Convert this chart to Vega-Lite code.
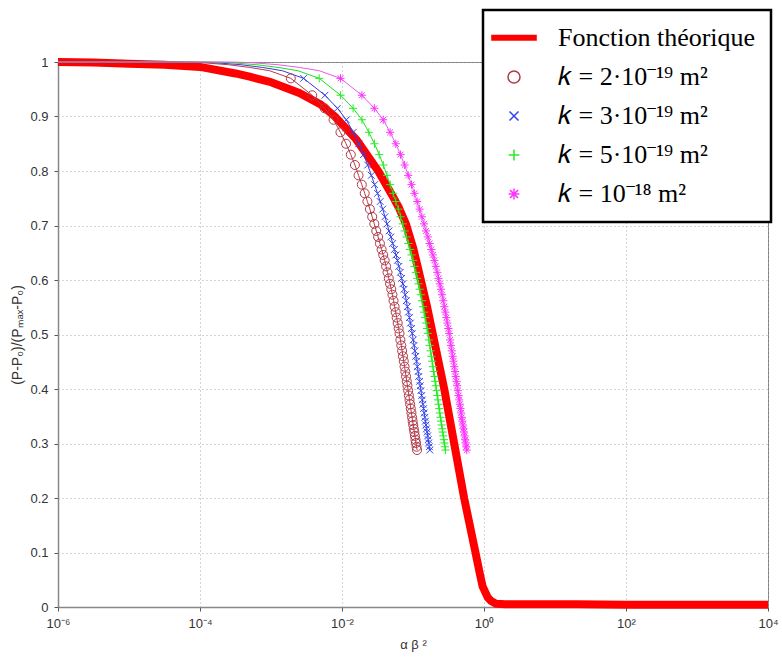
{
"$schema": "https://vega.github.io/schema/vega-lite/v6.json",
"width": 710, "height": 545,
"autosize": {"type": "none"},
"padding": {"left": 58, "top": 62, "right": 14, "bottom": 55},
"background": "white",
"data": {"values": [
{"s":"t","x":-6,"y":1.0,"m":0},{"s":"t","x":-5.5,"y":0.999,"m":0},{"s":"t","x":-5,"y":0.997,"m":0},{"s":"t","x":-4.5,"y":0.995,"m":0},{"s":"t","x":-4,"y":0.991,"m":0},{"s":"t","x":-3.5,"y":0.979,"m":0},{"s":"t","x":-3.3,"y":0.973,"m":0},{"s":"t","x":-3,"y":0.963,"m":0},{"s":"t","x":-2.6,"y":0.943,"m":0},{"s":"t","x":-2.3,"y":0.922,"m":0},{"s":"t","x":-2.1,"y":0.9,"m":0},{"s":"t","x":-1.8,"y":0.858,"m":0},{"s":"t","x":-1.49,"y":0.8,"m":0},{"s":"t","x":-1.3,"y":0.757,"m":0},{"s":"t","x":-1.2,"y":0.733,"m":0},{"s":"t","x":-1.1,"y":0.703,"m":0},{"s":"t","x":-1.0,"y":0.66,"m":0},{"s":"t","x":-0.89,"y":0.6,"m":0},{"s":"t","x":-0.8,"y":0.55,"m":0},{"s":"t","x":-0.72,"y":0.5,"m":0},{"s":"t","x":-0.64,"y":0.45,"m":0},{"s":"t","x":-0.56,"y":0.4,"m":0},{"s":"t","x":-0.49,"y":0.35,"m":0},{"s":"t","x":-0.42,"y":0.3,"m":0},{"s":"t","x":-0.35,"y":0.25,"m":0},{"s":"t","x":-0.28,"y":0.2,"m":0},{"s":"t","x":-0.2,"y":0.15,"m":0},{"s":"t","x":-0.12,"y":0.1,"m":0},{"s":"t","x":-0.06,"y":0.062,"m":0},{"s":"t","x":-0.02,"y":0.038,"m":0},{"s":"t","x":0.05,"y":0.018,"m":0},{"s":"t","x":0.1,"y":0.011,"m":0},{"s":"t","x":0.17,"y":0.006,"m":0},{"s":"t","x":0.3,"y":0.005,"m":0},{"s":"t","x":1,"y":0.005,"m":0},{"s":"t","x":1.3,"y":0.005,"m":0},{"s":"t","x":2,"y":0.004,"m":0},{"s":"t","x":4,"y":0.004,"m":0},

{"s":"a","x":-6,"y":1,"m":0},{"s":"a","x":-4.3,"y":1,"m":0},{"s":"a","x":-4.0,"y":0.999,"m":0},{"s":"a","x":-3.6,"y":0.995,"m":0},{"s":"a","x":-3.3,"y":0.99,"m":0},{"s":"a","x":-3.02,"y":0.984,"m":0},
{"s":"a","x":-2.721,"y":0.970,"m":1},{"s":"a","x":-2.420,"y":0.939,"m":1},{"s":"a","x":-2.244,"y":0.915,"m":1},{"s":"a","x":-2.119,"y":0.894,"m":1},{"s":"a","x":-2.022,"y":0.871,"m":1},{"s":"a","x":-1.943,"y":0.850,"m":1},{"s":"a","x":-1.876,"y":0.830,"m":1},{"s":"a","x":-1.818,"y":0.811,"m":1},{"s":"a","x":-1.767,"y":0.792,"m":1},{"s":"a","x":-1.721,"y":0.775,"m":1},{"s":"a","x":-1.680,"y":0.759,"m":1},{"s":"a","x":-1.642,"y":0.744,"m":1},{"s":"a","x":-1.607,"y":0.730,"m":1},{"s":"a","x":-1.575,"y":0.716,"m":1},{"s":"a","x":-1.545,"y":0.703,"m":1},{"s":"a","x":-1.517,"y":0.690,"m":1},{"s":"a","x":-1.491,"y":0.679,"m":1},{"s":"a","x":-1.466,"y":0.667,"m":1},{"s":"a","x":-1.442,"y":0.656,"m":1},{"s":"a","x":-1.420,"y":0.646,"m":1},{"s":"a","x":-1.399,"y":0.636,"m":1},{"s":"a","x":-1.379,"y":0.625,"m":1},{"s":"a","x":-1.359,"y":0.614,"m":1},{"s":"a","x":-1.341,"y":0.603,"m":1},{"s":"a","x":-1.323,"y":0.593,"m":1},{"s":"a","x":-1.306,"y":0.583,"m":1},{"s":"a","x":-1.290,"y":0.573,"m":1},{"s":"a","x":-1.274,"y":0.562,"m":1},{"s":"a","x":-1.259,"y":0.551,"m":1},{"s":"a","x":-1.244,"y":0.541,"m":1},{"s":"a","x":-1.230,"y":0.531,"m":1},{"s":"a","x":-1.216,"y":0.521,"m":1},{"s":"a","x":-1.202,"y":0.511,"m":1},{"s":"a","x":-1.190,"y":0.502,"m":1},{"s":"a","x":-1.177,"y":0.490,"m":1},{"s":"a","x":-1.165,"y":0.480,"m":1},{"s":"a","x":-1.153,"y":0.470,"m":1},{"s":"a","x":-1.141,"y":0.460,"m":1},{"s":"a","x":-1.130,"y":0.451,"m":1},{"s":"a","x":-1.119,"y":0.441,"m":1},{"s":"a","x":-1.108,"y":0.432,"m":1},{"s":"a","x":-1.098,"y":0.423,"m":1},{"s":"a","x":-1.088,"y":0.414,"m":1},{"s":"a","x":-1.078,"y":0.406,"m":1},{"s":"a","x":-1.068,"y":0.397,"m":1},{"s":"a","x":-1.058,"y":0.388,"m":1},{"s":"a","x":-1.049,"y":0.380,"m":1},{"s":"a","x":-1.040,"y":0.372,"m":1},{"s":"a","x":-1.031,"y":0.364,"m":1},{"s":"a","x":-1.022,"y":0.356,"m":1},{"s":"a","x":-1.013,"y":0.348,"m":1},{"s":"a","x":-1.005,"y":0.341,"m":1},{"s":"a","x":-0.997,"y":0.334,"m":1},{"s":"a","x":-0.989,"y":0.327,"m":1},{"s":"a","x":-0.981,"y":0.321,"m":1},{"s":"a","x":-0.973,"y":0.314,"m":1},{"s":"a","x":-0.965,"y":0.307,"m":1},{"s":"a","x":-0.958,"y":0.301,"m":1},{"s":"a","x":-0.950,"y":0.294,"m":1},{"s":"a","x":-0.943,"y":0.288,"m":1},

{"s":"b","x":-6,"y":1,"m":0},{"s":"b","x":-4.12,"y":1,"m":0},{"s":"b","x":-3.82,"y":0.999,"m":0},{"s":"b","x":-3.42,"y":0.995,"m":0},{"s":"b","x":-3.12,"y":0.99,"m":0},{"s":"b","x":-2.84,"y":0.984,"m":0},
{"s":"b","x":-2.541,"y":0.970,"m":1},{"s":"b","x":-2.240,"y":0.939,"m":1},{"s":"b","x":-2.064,"y":0.915,"m":1},{"s":"b","x":-1.939,"y":0.894,"m":1},{"s":"b","x":-1.842,"y":0.871,"m":1},{"s":"b","x":-1.763,"y":0.850,"m":1},{"s":"b","x":-1.696,"y":0.830,"m":1},{"s":"b","x":-1.638,"y":0.811,"m":1},{"s":"b","x":-1.587,"y":0.792,"m":1},{"s":"b","x":-1.541,"y":0.775,"m":1},{"s":"b","x":-1.500,"y":0.759,"m":1},{"s":"b","x":-1.462,"y":0.744,"m":1},{"s":"b","x":-1.427,"y":0.730,"m":1},{"s":"b","x":-1.395,"y":0.716,"m":1},{"s":"b","x":-1.365,"y":0.703,"m":1},{"s":"b","x":-1.337,"y":0.690,"m":1},{"s":"b","x":-1.311,"y":0.679,"m":1},{"s":"b","x":-1.286,"y":0.667,"m":1},{"s":"b","x":-1.262,"y":0.656,"m":1},{"s":"b","x":-1.240,"y":0.646,"m":1},{"s":"b","x":-1.219,"y":0.636,"m":1},{"s":"b","x":-1.199,"y":0.625,"m":1},{"s":"b","x":-1.179,"y":0.614,"m":1},{"s":"b","x":-1.161,"y":0.603,"m":1},{"s":"b","x":-1.143,"y":0.593,"m":1},{"s":"b","x":-1.126,"y":0.583,"m":1},{"s":"b","x":-1.110,"y":0.573,"m":1},{"s":"b","x":-1.094,"y":0.562,"m":1},{"s":"b","x":-1.079,"y":0.551,"m":1},{"s":"b","x":-1.064,"y":0.541,"m":1},{"s":"b","x":-1.050,"y":0.531,"m":1},{"s":"b","x":-1.036,"y":0.521,"m":1},{"s":"b","x":-1.022,"y":0.511,"m":1},{"s":"b","x":-1.010,"y":0.502,"m":1},{"s":"b","x":-0.997,"y":0.490,"m":1},{"s":"b","x":-0.985,"y":0.480,"m":1},{"s":"b","x":-0.973,"y":0.470,"m":1},{"s":"b","x":-0.961,"y":0.460,"m":1},{"s":"b","x":-0.950,"y":0.451,"m":1},{"s":"b","x":-0.939,"y":0.441,"m":1},{"s":"b","x":-0.928,"y":0.432,"m":1},{"s":"b","x":-0.918,"y":0.423,"m":1},{"s":"b","x":-0.908,"y":0.414,"m":1},{"s":"b","x":-0.898,"y":0.406,"m":1},{"s":"b","x":-0.888,"y":0.397,"m":1},{"s":"b","x":-0.878,"y":0.388,"m":1},{"s":"b","x":-0.869,"y":0.380,"m":1},{"s":"b","x":-0.860,"y":0.372,"m":1},{"s":"b","x":-0.851,"y":0.364,"m":1},{"s":"b","x":-0.842,"y":0.356,"m":1},{"s":"b","x":-0.833,"y":0.348,"m":1},{"s":"b","x":-0.825,"y":0.341,"m":1},{"s":"b","x":-0.817,"y":0.334,"m":1},{"s":"b","x":-0.809,"y":0.327,"m":1},{"s":"b","x":-0.801,"y":0.321,"m":1},{"s":"b","x":-0.793,"y":0.314,"m":1},{"s":"b","x":-0.785,"y":0.307,"m":1},{"s":"b","x":-0.778,"y":0.301,"m":1},{"s":"b","x":-0.770,"y":0.294,"m":1},{"s":"b","x":-0.763,"y":0.288,"m":1},

{"s":"c","x":-6,"y":1,"m":0},{"s":"c","x":-3.9,"y":1,"m":0},{"s":"c","x":-3.6,"y":0.999,"m":0},{"s":"c","x":-3.2,"y":0.995,"m":0},{"s":"c","x":-2.9,"y":0.99,"m":0},{"s":"c","x":-2.62,"y":0.984,"m":0},
{"s":"c","x":-2.321,"y":0.970,"m":1},{"s":"c","x":-2.020,"y":0.939,"m":1},{"s":"c","x":-1.844,"y":0.915,"m":1},{"s":"c","x":-1.719,"y":0.894,"m":1},{"s":"c","x":-1.622,"y":0.871,"m":1},{"s":"c","x":-1.543,"y":0.850,"m":1},{"s":"c","x":-1.476,"y":0.830,"m":1},{"s":"c","x":-1.418,"y":0.811,"m":1},{"s":"c","x":-1.367,"y":0.792,"m":1},{"s":"c","x":-1.321,"y":0.775,"m":1},{"s":"c","x":-1.280,"y":0.759,"m":1},{"s":"c","x":-1.242,"y":0.744,"m":1},{"s":"c","x":-1.207,"y":0.730,"m":1},{"s":"c","x":-1.175,"y":0.716,"m":1},{"s":"c","x":-1.145,"y":0.703,"m":1},{"s":"c","x":-1.117,"y":0.690,"m":1},{"s":"c","x":-1.091,"y":0.679,"m":1},{"s":"c","x":-1.066,"y":0.667,"m":1},{"s":"c","x":-1.042,"y":0.656,"m":1},{"s":"c","x":-1.020,"y":0.646,"m":1},{"s":"c","x":-0.999,"y":0.636,"m":1},{"s":"c","x":-0.979,"y":0.625,"m":1},{"s":"c","x":-0.959,"y":0.614,"m":1},{"s":"c","x":-0.941,"y":0.603,"m":1},{"s":"c","x":-0.923,"y":0.593,"m":1},{"s":"c","x":-0.906,"y":0.583,"m":1},{"s":"c","x":-0.890,"y":0.573,"m":1},{"s":"c","x":-0.874,"y":0.562,"m":1},{"s":"c","x":-0.859,"y":0.551,"m":1},{"s":"c","x":-0.844,"y":0.541,"m":1},{"s":"c","x":-0.830,"y":0.531,"m":1},{"s":"c","x":-0.816,"y":0.521,"m":1},{"s":"c","x":-0.802,"y":0.511,"m":1},{"s":"c","x":-0.790,"y":0.502,"m":1},{"s":"c","x":-0.777,"y":0.490,"m":1},{"s":"c","x":-0.765,"y":0.480,"m":1},{"s":"c","x":-0.753,"y":0.470,"m":1},{"s":"c","x":-0.741,"y":0.460,"m":1},{"s":"c","x":-0.730,"y":0.451,"m":1},{"s":"c","x":-0.719,"y":0.441,"m":1},{"s":"c","x":-0.708,"y":0.432,"m":1},{"s":"c","x":-0.698,"y":0.423,"m":1},{"s":"c","x":-0.688,"y":0.414,"m":1},{"s":"c","x":-0.678,"y":0.406,"m":1},{"s":"c","x":-0.668,"y":0.397,"m":1},{"s":"c","x":-0.658,"y":0.388,"m":1},{"s":"c","x":-0.649,"y":0.380,"m":1},{"s":"c","x":-0.640,"y":0.372,"m":1},{"s":"c","x":-0.631,"y":0.364,"m":1},{"s":"c","x":-0.622,"y":0.356,"m":1},{"s":"c","x":-0.613,"y":0.348,"m":1},{"s":"c","x":-0.605,"y":0.341,"m":1},{"s":"c","x":-0.597,"y":0.334,"m":1},{"s":"c","x":-0.589,"y":0.327,"m":1},{"s":"c","x":-0.581,"y":0.321,"m":1},{"s":"c","x":-0.573,"y":0.314,"m":1},{"s":"c","x":-0.565,"y":0.307,"m":1},{"s":"c","x":-0.558,"y":0.301,"m":1},{"s":"c","x":-0.550,"y":0.294,"m":1},{"s":"c","x":-0.543,"y":0.288,"m":1},

{"s":"d","x":-6,"y":1,"m":0},{"s":"d","x":-3.6,"y":1,"m":0},{"s":"d","x":-3.3,"y":0.999,"m":0},{"s":"d","x":-2.9,"y":0.995,"m":0},{"s":"d","x":-2.6,"y":0.99,"m":0},{"s":"d","x":-2.32,"y":0.984,"m":0},
{"s":"d","x":-2.021,"y":0.970,"m":1},{"s":"d","x":-1.720,"y":0.939,"m":1},{"s":"d","x":-1.544,"y":0.915,"m":1},{"s":"d","x":-1.419,"y":0.894,"m":1},{"s":"d","x":-1.322,"y":0.871,"m":1},{"s":"d","x":-1.243,"y":0.850,"m":1},{"s":"d","x":-1.176,"y":0.830,"m":1},{"s":"d","x":-1.118,"y":0.811,"m":1},{"s":"d","x":-1.067,"y":0.792,"m":1},{"s":"d","x":-1.021,"y":0.775,"m":1},{"s":"d","x":-0.980,"y":0.759,"m":1},{"s":"d","x":-0.942,"y":0.744,"m":1},{"s":"d","x":-0.907,"y":0.730,"m":1},{"s":"d","x":-0.875,"y":0.716,"m":1},{"s":"d","x":-0.845,"y":0.703,"m":1},{"s":"d","x":-0.817,"y":0.690,"m":1},{"s":"d","x":-0.791,"y":0.679,"m":1},{"s":"d","x":-0.766,"y":0.667,"m":1},{"s":"d","x":-0.742,"y":0.656,"m":1},{"s":"d","x":-0.720,"y":0.646,"m":1},{"s":"d","x":-0.699,"y":0.636,"m":1},{"s":"d","x":-0.679,"y":0.625,"m":1},{"s":"d","x":-0.659,"y":0.614,"m":1},{"s":"d","x":-0.641,"y":0.603,"m":1},{"s":"d","x":-0.623,"y":0.593,"m":1},{"s":"d","x":-0.606,"y":0.583,"m":1},{"s":"d","x":-0.590,"y":0.573,"m":1},{"s":"d","x":-0.574,"y":0.562,"m":1},{"s":"d","x":-0.559,"y":0.551,"m":1},{"s":"d","x":-0.544,"y":0.541,"m":1},{"s":"d","x":-0.530,"y":0.531,"m":1},{"s":"d","x":-0.516,"y":0.521,"m":1},{"s":"d","x":-0.502,"y":0.511,"m":1},{"s":"d","x":-0.490,"y":0.502,"m":1},{"s":"d","x":-0.477,"y":0.490,"m":1},{"s":"d","x":-0.465,"y":0.480,"m":1},{"s":"d","x":-0.453,"y":0.470,"m":1},{"s":"d","x":-0.441,"y":0.460,"m":1},{"s":"d","x":-0.430,"y":0.451,"m":1},{"s":"d","x":-0.419,"y":0.441,"m":1},{"s":"d","x":-0.408,"y":0.432,"m":1},{"s":"d","x":-0.398,"y":0.423,"m":1},{"s":"d","x":-0.388,"y":0.414,"m":1},{"s":"d","x":-0.378,"y":0.406,"m":1},{"s":"d","x":-0.368,"y":0.397,"m":1},{"s":"d","x":-0.358,"y":0.388,"m":1},{"s":"d","x":-0.349,"y":0.380,"m":1},{"s":"d","x":-0.340,"y":0.372,"m":1},{"s":"d","x":-0.331,"y":0.364,"m":1},{"s":"d","x":-0.322,"y":0.356,"m":1},{"s":"d","x":-0.313,"y":0.348,"m":1},{"s":"d","x":-0.305,"y":0.341,"m":1},{"s":"d","x":-0.297,"y":0.334,"m":1},{"s":"d","x":-0.289,"y":0.327,"m":1},{"s":"d","x":-0.281,"y":0.321,"m":1},{"s":"d","x":-0.273,"y":0.314,"m":1},{"s":"d","x":-0.265,"y":0.307,"m":1},{"s":"d","x":-0.258,"y":0.301,"m":1},{"s":"d","x":-0.250,"y":0.294,"m":1},{"s":"d","x":-0.243,"y":0.288,"m":1}
]},
"encoding": {
  "x": {"field": "x", "type": "quantitative",
        "scale": {"domain": [-6, 4], "nice": false, "zero": false},
        "axis": {"values": [-6, -4, -2, 0, 2, 4], "labelFlush": false, "labelPadding": 6, "titlePadding": 8,
                 "labelExpr": "datum.value == -6 ? '10⁻⁶' : datum.value == -4 ? '10⁻⁴' : datum.value == -2 ? '10⁻²' : datum.value == 0 ? '10⁰' : datum.value == 2 ? '10²' : '10⁴'",
                 "title": "α β ²"}},
  "y": {"field": "y", "type": "quantitative",
        "scale": {"domain": [0, 1], "nice": false, "zero": false},
        "axis": {"values": [0, 0.1, 0.2, 0.3, 0.4, 0.5, 0.6, 0.7, 0.8, 0.9, 1], "format": ".1~f", "labelFlush": false, "labelOverlap": false, "labelPadding": 6, "titlePadding": 5, "titleFontSize": 14,
                 "title": "(P-P₀)/(Pₘₐₓ-P₀)"}}
},
"layer": [
  {"transform": [{"filter": "datum.s == 't'"}],
   "mark": {"type": "line", "color": "#ff0000", "strokeWidth": 8, "strokeJoin": "round"}},
  {"transform": [{"filter": "datum.s != 't'"}],
   "mark": {"type": "line", "strokeWidth": 1},
   "encoding": {"stroke": {"field": "s", "type": "nominal", "legend": null,
      "scale": {"domain": ["a", "b", "c", "d"], "range": ["#b83a46", "#3a3ad8", "#22dd22", "#e85ce8"]}}}},
  {"transform": [{"filter": "datum.m == 1"}],
   "mark": {"type": "point", "filled": false, "size": 81, "strokeWidth": 1, "opacity": 1},
   "encoding": {
     "color": {"field": "s", "type": "nominal",
       "scale": {"domain": ["t", "a", "b", "c", "d"], "range": ["#ff0000", "#b03a4a", "#3344ee", "#22ee22", "#ff33ff"]},
       "legend": {"labelExpr": "datum.value == 't' ? 'Fonction théorique   ' : datum.value == 'a' ? '𝑘 = 2·10⁻¹⁹  m²' : datum.value == 'b' ? '𝑘 = 3·10⁻¹⁹  m²' : datum.value == 'c' ? '𝑘 = 5·10⁻¹⁹  m²' : '𝑘 = 10⁻¹⁸  m²'",
         "encode": {
           "legend": {"update": {"strokeWidth": {"value": 2.5}}}
         }}},
     "shape": {"field": "s", "type": "nominal",
       "scale": {"domain": ["t", "a", "b", "c", "d"],
                 "range": ["M-3.8,-0.4H3.8M-3.8,-0.25H3.8M-3.8,-0.1H3.8M-3.8,0.05H3.8M-3.8,0.2H3.8M-3.8,0.35H3.8", "circle", "M-0.75,-0.75L0.75,0.75M-0.75,0.75L0.75,-0.75", "M-0.9,0H0.9M0,-0.9V0.9", "M-0.9,0H0.9M0,-0.9V0.9M-0.65,-0.65L0.65,0.65M-0.65,0.65L0.65,-0.65"]},
       "legend": {"labelExpr": "datum.value == 't' ? 'Fonction théorique   ' : datum.value == 'a' ? '𝑘 = 2·10⁻¹⁹  m²' : datum.value == 'b' ? '𝑘 = 3·10⁻¹⁹  m²' : datum.value == 'c' ? '𝑘 = 5·10⁻¹⁹  m²' : '𝑘 = 10⁻¹⁸  m²'",
         "encode": {
           "legend": {"update": {"strokeWidth": {"value": 2.5}}}
         }}}
   }}
],
"config": {
  "view": {"stroke": "#808080", "strokeWidth": 1},
  "axis": {"labelFont": "Liberation Sans", "labelFontSize": 13, "labelColor": "#333333",
           "titleFont": "Liberation Sans", "titleFontSize": 13, "titleFontWeight": "normal", "titleColor": "#333333",
           "domainColor": "#888888", "domainWidth": 1.5, "tickColor": "#555555", "tickSize": 4,
           "gridColor": "#aaaaaa", "gridDash": [1, 3], "gridWidth": 1},
  "legend": {"orient": "none", "legendX": 425, "legendY": -52, "title": null,
         "padding": 15, "rowPadding": 13, "labelOffset": 31, "symbolOffset": 3,
         "labelFont": "Liberation Serif", "labelFontSize": 26, "labelColor": "black", "labelLimit": 400,
         "symbolSize": 144, "symbolStrokeWidth": 1.5,
         "strokeColor": "black", "strokeWidth": 2.5, "fillColor": "white"}
}
}
